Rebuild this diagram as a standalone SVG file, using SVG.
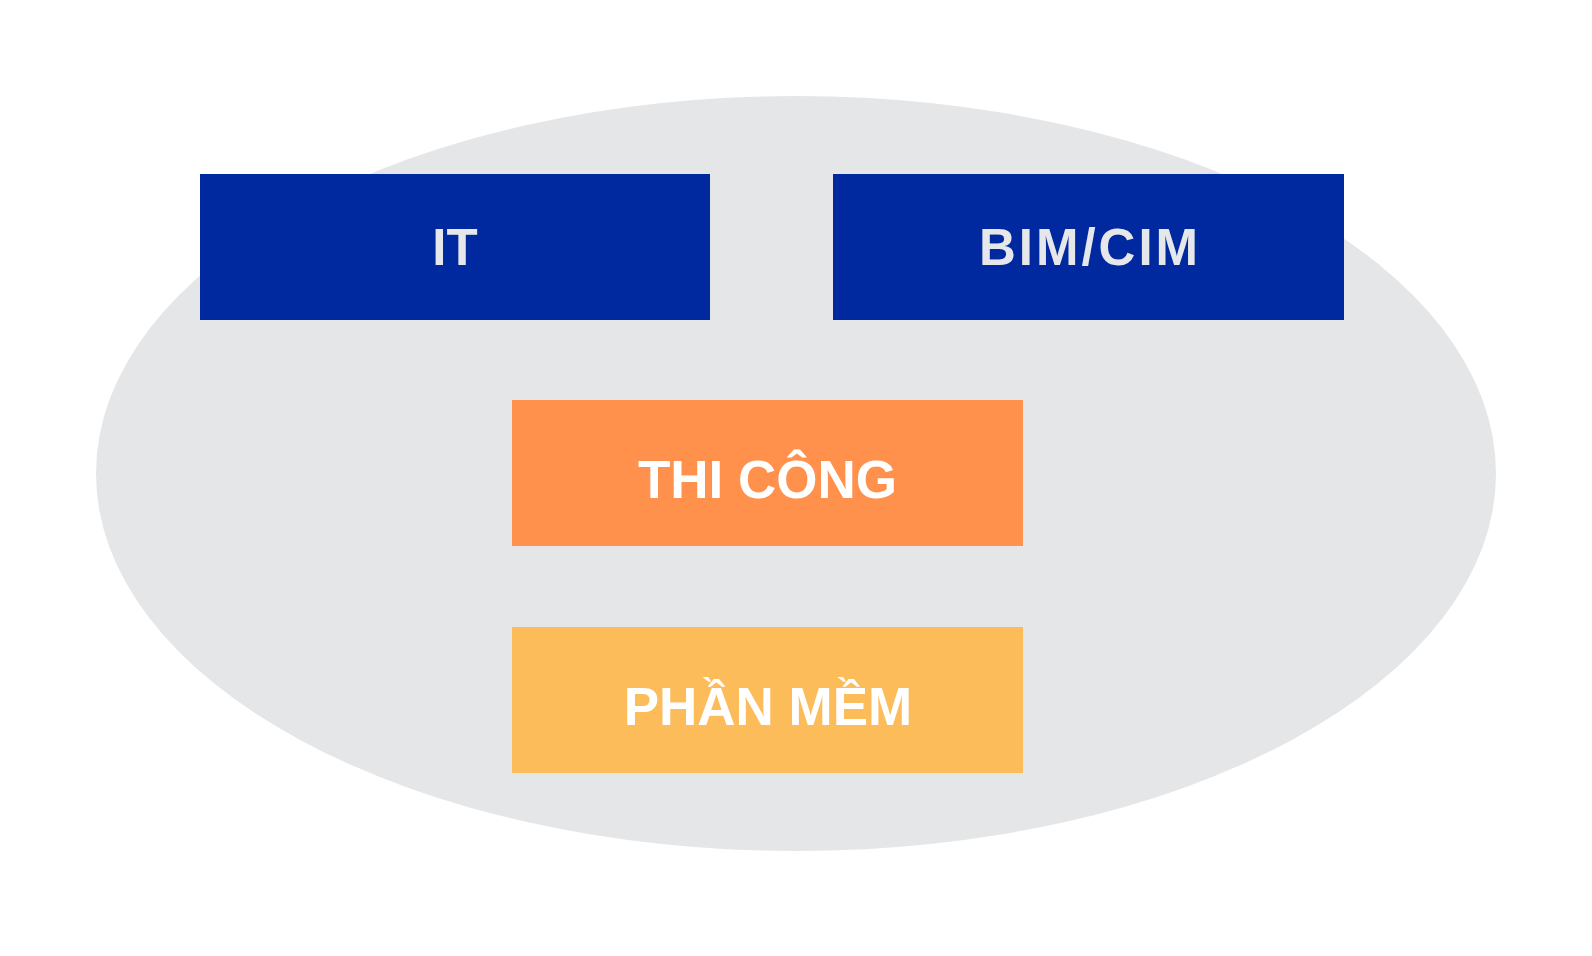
<svg xmlns="http://www.w3.org/2000/svg" width="1592" height="956" viewBox="0 0 1592 956">
<style>
.lbl{font-family:"Liberation Sans",Arial,sans-serif;font-weight:bold;text-anchor:middle}
.blue{fill:#00299F}
.lt{fill:#E6E7EA}
.wt{fill:#FFFFFF}
</style>
<rect x="0" y="0" width="1592" height="956" fill="#FFFFFF"/>
<ellipse id="background" cx="796" cy="473.5" rx="700" ry="377.5" fill="#E5E6E8"/>
<g id="node-it">
<rect class="blue" x="200" y="174" width="510" height="146"/>
<text class="lbl lt" x="455" y="265" font-size="51">IT</text>
</g>
<g id="node-bimcim">
<rect class="blue" x="833" y="174" width="511" height="146"/>
<text class="lbl lt" x="1090" y="265" font-size="51" letter-spacing="3">BIM/CIM</text>
</g>
<g id="node-thicong">
<rect x="512" y="400" width="511" height="146" fill="#FF914D"/>
<text class="lbl wt" x="767.5" y="498" font-size="53">THI CÔNG</text>
</g>
<g id="node-phanmem">
<rect x="512" y="627" width="511" height="146" fill="#FDBC5A"/>
<text class="lbl wt" x="768" y="725" font-size="53">PHẦN MỀM</text>
</g>
<g id="connectors"></g>
</svg>
